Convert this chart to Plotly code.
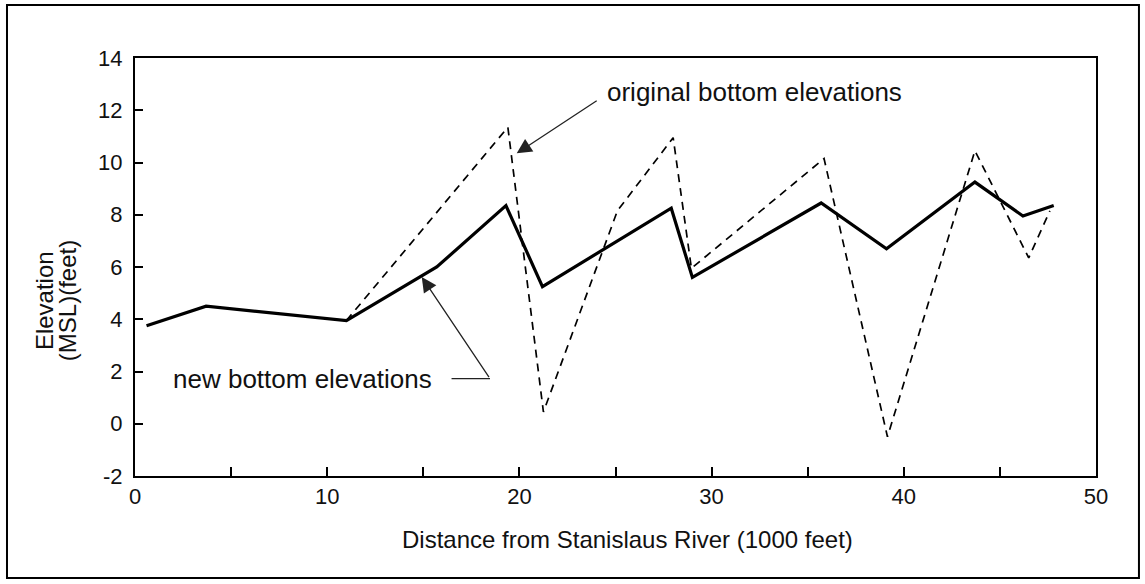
import plotly.graph_objects as go

# Data
new_x = [0.6, 3.7, 11.0, 15.7, 19.3, 21.2, 27.9, 29.0, 35.7, 39.1, 43.7, 46.2, 47.8]
new_y = [3.75, 4.5, 3.95, 6.0, 8.35, 5.25, 8.25, 5.6, 8.45, 6.7, 9.25, 7.95, 8.35]

orig_x = [11.0, 19.4, 21.25, 25.1, 28.0, 28.95, 35.85, 39.15, 43.7, 46.5, 47.6]
orig_y = [3.95, 11.35, 0.45, 8.15, 10.95, 5.95, 10.15, -0.5, 10.45, 6.35, 8.15]

x_tickvals = [0, 5, 10, 15, 20, 25, 30, 35, 40, 45, 50]
x_ticktext = ["0", "", "10", "", "20", "", "30", "", "40", "", "50"]
y_tickvals = [-2, 0, 2, 4, 6, 8, 10, 12, 14]
y_ticktext = ["-2", "0", "2", "4", "6", "8", "10", "12", "14"]

FONT = "Liberation Sans, Arial, sans-serif"
TXT = "#111"

fig = go.Figure()
fig.add_trace(go.Scatter(x=orig_x, y=orig_y, mode="lines",
                         line=dict(color="black", width=1.7, dash="8px,6px"),
                         showlegend=False, hoverinfo="skip"))
fig.add_trace(go.Scatter(x=new_x, y=new_y, mode="lines",
                         line=dict(color="black", width=3.2),
                         showlegend=False, hoverinfo="skip"))

annotations = [
    # original bottom elevations label + arrow
    dict(x=24.45, y=12.7, xref="x", yref="y", text="original bottom elevations",
         showarrow=False, xanchor="left", yanchor="middle",
         font=dict(family=FONT, size=26, color=TXT)),
    dict(x=19.86, y=10.35, xref="x", yref="y", ax=24.1, ay=12.4, axref="x", ayref="y",
         text="", showarrow=True, arrowhead=2, arrowsize=2.3, arrowwidth=1.3,
         arrowcolor="#222"),
    # new bottom elevations label + arrow
    dict(x=15.55, y=1.72, xref="x", yref="y", text="new bottom elevations",
         showarrow=False, xanchor="right", yanchor="middle",
         font=dict(family=FONT, size=26, color=TXT)),
    dict(x=14.92, y=5.62, xref="x", yref="y", ax=18.47, ay=1.73, axref="x", ayref="y",
         text="", showarrow=True, arrowhead=2, arrowsize=2.3, arrowwidth=1.3,
         arrowcolor="#222"),
    # y-axis title (two lines)
    dict(x=-0.094, y=0.42, xref="paper", yref="paper",
         text="Elevation", textangle=-90, showarrow=False,
         xanchor="center", yanchor="middle",
         font=dict(family=FONT, size=24, color=TXT)),
    dict(x=-0.07, y=0.42, xref="paper", yref="paper",
         text="(MSL)(feet)", textangle=-90, showarrow=False,
         xanchor="center", yanchor="middle",
         font=dict(family=FONT, size=24, color=TXT)),
    # x-axis title
    dict(x=0.512, y=-0.153, xref="paper", yref="paper",
         text="Distance from Stanislaus River (1000 feet)", showarrow=False,
         xanchor="center", yanchor="middle",
         font=dict(family=FONT, size=24, color=TXT)),
]

shapes = [
    dict(type="line", xref="x", yref="y", x0=16.47, x1=18.47, y0=1.73, y1=1.73,
         line=dict(color="#222", width=1.3)),
    dict(type="rect", xref="paper", yref="paper", x0=-0.1332, x1=1.0447,
         y0=-0.244, y1=1.1268, line=dict(color="black", width=2)),
]

fig.update_layout(
    width=1145, height=584,
    margin=dict(l=135, r=49, t=58, b=108),
    paper_bgcolor="white", plot_bgcolor="white",
    font=dict(family=FONT, size=22, color=TXT),
    annotations=annotations, shapes=shapes,
    showlegend=False,
)
fig.update_xaxes(range=[0, 50], tickvals=x_tickvals, ticktext=x_ticktext,
                 ticks="inside", ticklen=9, tickwidth=2, tickcolor="black",
                 showline=True, linewidth=2, linecolor="black", mirror=True,
                 showgrid=False, zeroline=False,
                 tickfont=dict(family=FONT, size=22, color=TXT))
fig.update_yaxes(range=[-2, 14], tickvals=y_tickvals, ticktext=y_ticktext,
                 ticks="inside", ticklen=8, tickwidth=2, tickcolor="black",
                 showline=True, linewidth=2, linecolor="black", mirror=True,
                 showgrid=False, zeroline=False, ticklabelstandoff=6,
                 tickfont=dict(family=FONT, size=22, color=TXT))

fig.write_html("out.html")
